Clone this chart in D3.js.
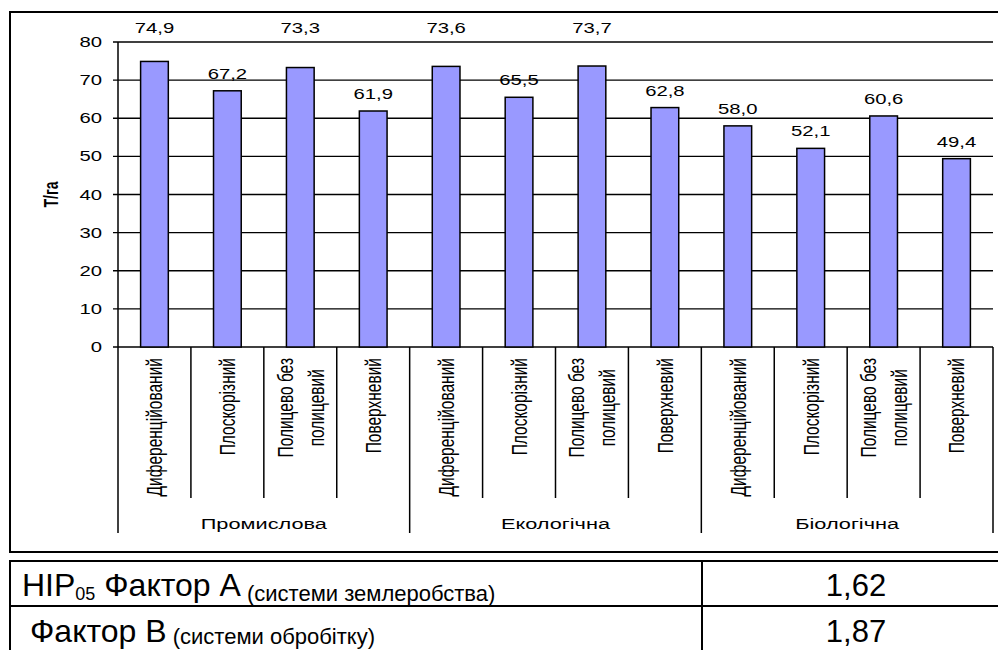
<!DOCTYPE html>
<html>
<head>
<meta charset="utf-8">
<script src="https://cdn.jsdelivr.net/npm/d3@7"></script>
<style>
  body { margin: 0; background: #fff; }
  svg { display: block; }
  text { font-family: "Liberation Sans", Arial, sans-serif; fill: #000; }
</style>
</head>
<body>
<svg id="chart" width="998" height="650"></svg>
<script>
const groups = ["Промислова", "Екологічна", "Біологічна"];
const methods = [["Диференційований"], ["Плоскорізний"], ["Полицево без", "полицевий"], ["Поверхневий"]];
const yields = [74.9, 67.2, 73.3, 61.9, 73.6, 65.5, 73.7, 62.8, 58.0, 52.1, 60.6, 49.4];
const yTicks = [0, 10, 20, 30, 40, 50, 60, 70, 80];
const yTitle = "Т/га";

const lsdPrefix = ["НІР", "05"];
const lsdNames = ["Фактор А", "Фактор В"];
const lsdNotes = ["(системи землеробства)", "(системи обробітку)"];
const lsdValues = [1.62, 1.87];

// the source picture was stretched sideways, so text is too
const SX = 1.45;

const svg = d3.select("#chart");
const fmt1 = (v) => d3.format(".1f")(v).replace(".", ",");
const fmt2 = (v) => d3.format(".2f")(v).replace(".", ",");

const bars = yields.map((value, i) => ({
  key: i,
  value,
  lines: methods[i % methods.length],
  group: groups[Math.floor(i / methods.length)]
}));

const x = d3.scaleBand()
  .domain(bars.map((d) => d.key))
  .range([118, 993])
  .paddingInner(0.62)
  .paddingOuter(0.31);

const y = d3.scaleLinear().domain([0, 80]).range([347, 42]);

const left = x.range()[0];
const right = x.range()[1];
const step = x.step();
const edge = (k) => left + k * step;

// outer frame of the chart
svg.append("rect")
  .attr("x", 10).attr("y", 12)
  .attr("width", 1010).attr("height", 540)
  .attr("fill", "#fff").attr("stroke", "#000").attr("stroke-width", 2);

// gridlines + ticks
svg.append("g")
  .selectAll("line")
  .data(yTicks)
  .join("line")
  .attr("x1", left - 5).attr("x2", right)
  .attr("y1", (d) => y(d)).attr("y2", (d) => y(d))
  .attr("stroke", "#000").attr("stroke-width", 1.3);

svg.append("g")
  .selectAll("text")
  .data(yTicks)
  .join("text")
  .attr("transform", (d) => `translate(${left - 16},${y(d) + 5}) scale(${SX},1)`)
  .attr("text-anchor", "end")
  .style("font-size", "14px")
  .text((d) => d);

svg.append("text")
  .attr("transform", `translate(58,${y(40)}) scale(${SX},1) rotate(-90)`)
  .attr("text-anchor", "middle")
  .style("font-size", "14px")
  .style("font-weight", "bold")
  .text(yTitle);

// y axis line
svg.append("line")
  .attr("x1", left).attr("x2", left)
  .attr("y1", y(80)).attr("y2", y(0))
  .attr("stroke", "#000").attr("stroke-width", 1.5);

// bars
svg.append("g")
  .selectAll("rect")
  .data(bars)
  .join("rect")
  .attr("x", (d) => x(d.key))
  .attr("y", (d) => y(d.value))
  .attr("width", x.bandwidth())
  .attr("height", (d) => y(0) - y(d.value))
  .attr("fill", "#9999ff")
  .attr("stroke", "#000")
  .attr("stroke-width", 1.5);

// value labels: the tallest ones sit above the plot area
const topLimit = yTicks[yTicks.length - 2];
svg.append("g")
  .selectAll("text")
  .data(bars)
  .join("text")
  .attr("transform", (d) => {
    const ly = d.value > topLimit ? y(80) - 9 : y(d.value) - 12;
    return `translate(${x(d.key) + x.bandwidth() / 2},${ly}) scale(${SX},1)`;
  })
  .attr("text-anchor", "middle")
  .style("font-size", "14px")
  .text((d) => fmt1(d.value));

// category dividers under the axis
const dividers = d3.range(bars.length + 1).map((k) => ({
  k,
  major: k % methods.length === 0
}));

svg.append("g")
  .selectAll("line")
  .data(dividers)
  .join("line")
  .attr("x1", (d) => edge(d.k)).attr("x2", (d) => edge(d.k))
  .attr("y1", y(0))
  .attr("y2", (d) => (d.major ? 533 : 498))
  .attr("stroke", "#000").attr("stroke-width", 1.5);

// rotated category labels
const catTop = 358;
const cats = svg.append("g")
  .selectAll("g")
  .data(bars)
  .join("g")
  .attr("transform", (d) => `translate(${x(d.key) + x.bandwidth() / 2},${catTop}) scale(${SX},1) rotate(-90)`);

cats.each(function (d) {
  const g = d3.select(this);
  const n = d.lines.length;
  const texts = g.selectAll("text")
    .data(d.lines)
    .join("text")
    .attr("y", (line, i) => (i - (n - 1) / 2) * 31 / SX)
    .attr("dy", "0.35em")
    .attr("text-anchor", "middle")
    .style("font-size", "15.5px")
    .text((line) => line);
  const maxLen = d3.max(texts.nodes(), (node) => node.getComputedTextLength());
  texts.attr("x", -maxLen / 2);
});

// group labels
svg.append("g")
  .selectAll("text")
  .data(groups)
  .join("text")
  .attr("transform", (d, i) => `translate(${(edge(i * 4) + edge(i * 4 + 4)) / 2},529) scale(${SX},1)`)
  .attr("text-anchor", "middle")
  .style("font-size", "15px")
  .text((d) => d);

// LSD table under the chart
const tableTop = 561;
const rowH = 45;
const colX = 702;
const rowBase = [tableTop + 35, tableTop + 81];

svg.append("rect")
  .attr("x", 10).attr("y", tableTop)
  .attr("width", 1010).attr("height", rowH * 2 + 10)
  .attr("fill", "none").attr("stroke", "#000").attr("stroke-width", 2);

svg.append("line")
  .attr("x1", 10).attr("x2", 1020)
  .attr("y1", tableTop + rowH).attr("y2", tableTop + rowH)
  .attr("stroke", "#000").attr("stroke-width", 2);

svg.append("line")
  .attr("x1", colX).attr("x2", colX)
  .attr("y1", tableTop).attr("y2", 650)
  .attr("stroke", "#000").attr("stroke-width", 2);

const rowText = svg.append("g")
  .selectAll("text")
  .data(lsdNames)
  .join("text")
  .attr("x", (d, i) => (i === 0 ? 22 : 30))
  .attr("y", (d, i) => rowBase[i])
  .style("font-size", "32px");

rowText.each(function (d, i) {
  const t = d3.select(this);
  if (i === 0) {
    t.append("tspan").text(lsdPrefix[0]);
    t.append("tspan").style("font-size", "18px").attr("dy", 4).text(lsdPrefix[1]);
    t.append("tspan").attr("dy", -4).text(" " + d);
  } else {
    t.append("tspan").text(d);
  }
  t.append("tspan").style("font-size", "22px").attr("dy", i === 0 ? 5 : 2).text(" " + lsdNotes[i]);
});

svg.append("g")
  .selectAll("text")
  .data(lsdValues)
  .join("text")
  .attr("x", 856)
  .attr("y", (d, i) => rowBase[i])
  .attr("text-anchor", "middle")
  .style("font-size", "31px")
  .text((d) => fmt2(d));
</script>
</body>
</html>
